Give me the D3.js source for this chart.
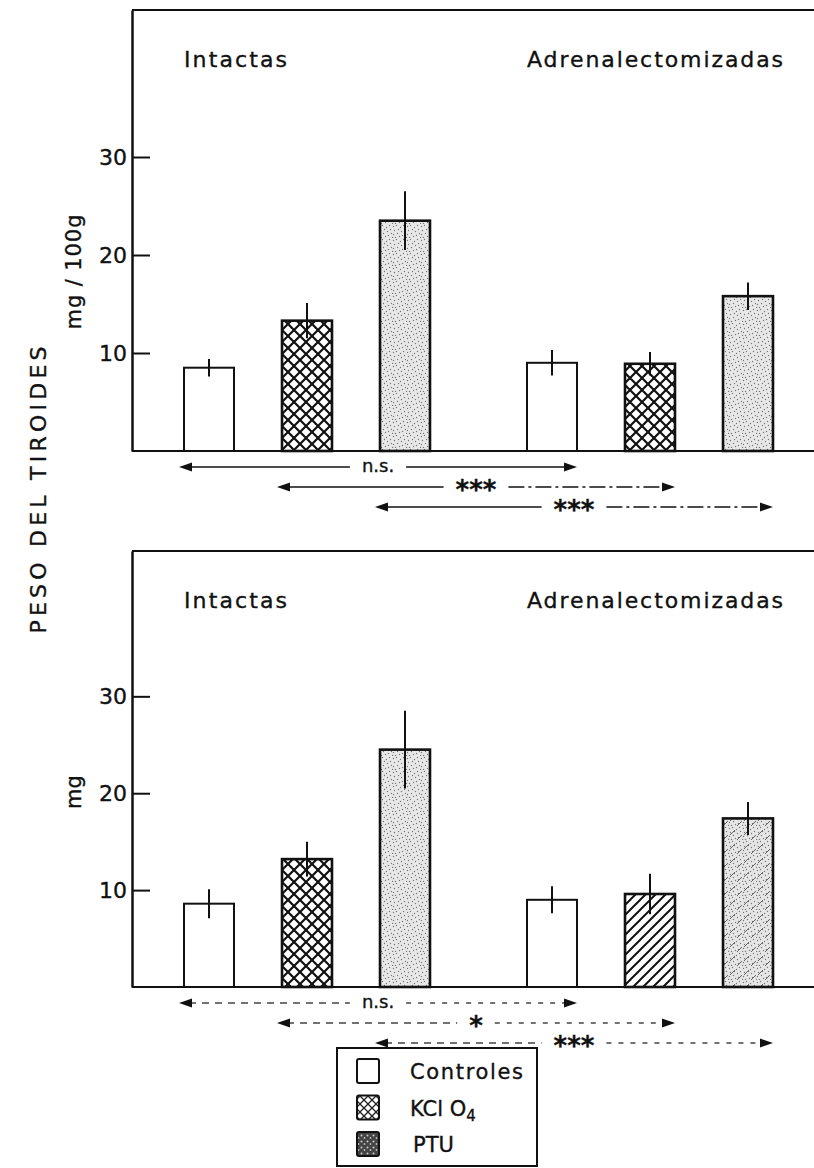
<!DOCTYPE html>
<html>
<head>
<meta charset="utf-8">
<script src="https://cdn.jsdelivr.net/npm/d3@7"></script>
<style>
  body { margin: 0; background: #fff; }
  svg { display: block; }
  text { font-family: "DejaVu Sans", sans-serif; fill: #111; stroke: #111; stroke-width: 0.35px; }
</style>
</head>
<body>
<svg id="chart" width="814" height="1168"></svg>
<script>
// Thyroid weight by treatment, intact vs adrenalectomized rats
const groups = ["Intactas", "Adrenalectomizadas"];
const treatments = ["Controles", "KClO4", "PTU"];

// Relative weight (mg / 100 g body weight): mean and error
const relIntactas = [8.5, 13.3, 23.5];
const relIntactasErr = [0.9, 1.8, 3.0];
const relAdrenal = [9.0, 8.9, 15.8];
const relAdrenalErr = [1.3, 1.2, 1.4];

// Absolute weight (mg): mean and error
const absIntactas = [8.6, 13.2, 24.5];
const absIntactasErr = [1.5, 1.8, 4.0];
const absAdrenal = [9.0, 9.6, 17.4];
const absAdrenalErr = [1.4, 2.1, 1.7];

// Significance of Intactas vs Adrenalectomizadas, per treatment
const relSignif = ["n.s.", "***", "***"];
const absSignif = ["n.s.", "*", "***"];

const yTicks = [10, 20, 30];
const yMax = 45;

const svg = d3.select("#chart");
const W = 814;

// ---------- fill patterns ----------
const defs = svg.append("defs");

function patternTile(id, size) {
  return defs.append("pattern").attr("id", id)
    .attr("patternUnits", "userSpaceOnUse")
    .attr("width", size).attr("height", size);
}

// cross-hatch (diamond lattice)
{
  const p = patternTile("cross", 12);
  p.append("rect").attr("width", 12).attr("height", 12).attr("fill", "#fff");
  p.append("path").attr("d", "M-3,-3L15,15M15,-3L-3,15")
    .attr("stroke", "#111").attr("stroke-width", 2.2).attr("fill", "none");
}
// fine light stipple
const dots = [[1,2],[4,1],[8,3],[11,1],[2,6],[6,5],[9,7],[1,10],[5,9],[10,11],[7,12],[3,13],[12,5],[13,9],[0,13]];
{
  const p = patternTile("stipple", 14);
  p.append("rect").attr("width", 14).attr("height", 14).attr("fill", "#e8e8e8");
  p.selectAll("circle").data(dots).join("circle")
    .attr("cx", d => d[0] + 0.5).attr("cy", d => d[1] + 0.5).attr("r", 0.7)
    .attr("fill", "#777");
}
// diagonal hatch
{
  const p = patternTile("diag", 10);
  p.append("rect").attr("width", 10).attr("height", 10).attr("fill", "#fff");
  p.append("path").attr("d", "M-2,12L12,-2M-2,2L2,-2M8,12L12,8")
    .attr("stroke", "#111").attr("stroke-width", 2).attr("fill", "none");
}
// stipple with faint diagonal strokes
{
  const p = patternTile("stippleDiag", 14);
  p.append("rect").attr("width", 14).attr("height", 14).attr("fill", "#e6e6e6");
  p.selectAll("circle").data(dots).join("circle")
    .attr("cx", d => d[0] + 0.5).attr("cy", d => d[1] + 0.5).attr("r", 0.7)
    .attr("fill", "#777");
  p.append("path").attr("d", "M2,9L7,4M9,14L13,10")
    .attr("stroke", "#666").attr("stroke-width", 1).attr("fill", "none");
}
// dark stipple for the legend swatch
{
  const p = patternTile("stippleDark", 6);
  p.append("rect").attr("width", 6).attr("height", 6).attr("fill", "#444");
  p.append("circle").attr("cx", 1.5).attr("cy", 1.5).attr("r", 1).attr("fill", "#ccc");
  p.append("circle").attr("cx", 4.5).attr("cy", 4).attr("r", 0.9).attr("fill", "#bbb");
}
// light cross for the legend swatch
{
  const p = patternTile("crossLight", 8);
  p.append("rect").attr("width", 8).attr("height", 8).attr("fill", "#fff");
  p.append("path").attr("d", "M-2,-2L10,10M10,-2L-2,10")
    .attr("stroke", "#222").attr("stroke-width", 1.3).attr("fill", "none");
}

// ---------- shared x layout ----------
const x0 = d3.scaleBand().domain(groups).range([160, 797]).paddingInner(49 / 343);
const x1 = d3.scaleBand().domain(treatments).range([0, x0.bandwidth()])
  .paddingInner(0.49).paddingOuter(0.245);
const bw = x1.bandwidth();
const xBar = (g, t) => x0(g) + x1(t);
const axisX = 132;

// ---------- panels ----------
const panels = [
  {
    top: 10, base: 451, unit: "mg / 100g", unitLen: 115, unitY: 272,
    means: [relIntactas, relAdrenal], errs: [relIntactasErr, relAdrenalErr],
    fills: [["none", "cross", "stipple"], ["none", "cross", "stipple"]],
    signif: relSignif, dashed: false
  },
  {
    top: 551, base: 987, unit: "mg", unitLen: null, unitY: 792,
    means: [absIntactas, absAdrenal], errs: [absIntactasErr, absAdrenalErr],
    fills: [["none", "cross", "stipple"], ["none", "diag", "stippleDiag"]],
    signif: absSignif, dashed: true
  }
];

panels.forEach(P => {
  const y = d3.scaleLinear().domain([0, yMax]).range([P.base, P.top]);
  const g = svg.append("g");

  // frame: top rule and baseline running off to the right
  g.append("line").attr("x1", axisX).attr("x2", W).attr("y1", P.top).attr("y2", P.top)
    .attr("stroke", "#111").attr("stroke-width", 2.2);
  g.append("line").attr("x1", axisX).attr("x2", W).attr("y1", P.base).attr("y2", P.base)
    .attr("stroke", "#111").attr("stroke-width", 2.2);

  // y axis with inward ticks
  const ax = g.append("g").attr("transform", `translate(${axisX},0)`)
    .call(d3.axisLeft(y).tickValues(yTicks).tickSizeInner(-18).tickSizeOuter(0).tickPadding(5));
  ax.select(".domain").attr("stroke", "#111").attr("stroke-width", 2.5);
  ax.selectAll(".tick line").attr("stroke", "#111").attr("stroke-width", 2);
  ax.selectAll(".tick text").attr("font-size", 22).attr("font-family", "DejaVu Sans, sans-serif")
    .attr("fill", "#111");

  // unit label
  const ut = g.append("text")
    .attr("transform", `translate(81,${P.unitY}) rotate(-90)`)
    .attr("text-anchor", "middle").attr("font-size", 21)
    .text(P.unit);
  if (P.unitLen) ut.attr("textLength", P.unitLen).attr("lengthAdjust", "spacing");

  // group labels
  groups.forEach((grp, gi) => {
    g.append("text")
      .attr("x", xBar(grp, treatments[0])).attr("y", P.top + 57)
      .attr("font-size", 22)
      .attr("textLength", gi === 0 ? 103 : 256).attr("lengthAdjust", "spacing")
      .text(grp);
  });

  // bars and error bars
  groups.forEach((grp, gi) => {
    treatments.forEach((t, ti) => {
      const v = P.means[gi][ti], e = P.errs[gi][ti];
      const f = P.fills[gi][ti];
      g.append("rect")
        .attr("x", xBar(grp, t)).attr("width", bw)
        .attr("y", y(v)).attr("height", y(0) - y(v))
        .attr("fill", f === "none" ? "#fff" : `url(#${f})`)
        .attr("stroke", "#111").attr("stroke-width", f === "none" ? 2 : 2.6);
      g.append("line")
        .attr("x1", xBar(grp, t) + bw / 2).attr("x2", xBar(grp, t) + bw / 2)
        .attr("y1", y(v + e)).attr("y2", y(v - e))
        .attr("stroke", "#111").attr("stroke-width", 2);
    });
  });

  // significance arrows: same treatment, Intactas vs Adrenalectomizadas
  treatments.forEach((t, ti) => {
    const ly = P.base + 16 + ti * 20;
    const xl = xBar(groups[0], t) - 5;
    const xr = xBar(groups[1], t) + bw;
    const mid = (xl + xr) / 2;
    const label = P.signif[ti];
    const isStar = label.includes("*");
    const txt = g.append("text")
      .attr("x", mid).attr("text-anchor", "middle")
      .attr("font-size", isStar ? 26 : 18)
      .attr("font-weight", isStar ? "bold" : "normal")
      .attr("y", isStar ? ly + 12 : ly + 5)
      .text(label);
    const half = txt.node().getComputedTextLength() / 2 + 12;

    const lineStyle = sel => sel.attr("stroke", P.dashed ? "#444" : "#111")
      .attr("stroke-width", P.dashed ? 1.4 : 1.6);
    const leftSeg = g.append("line").attr("x1", xl + 10).attr("x2", mid - half)
      .attr("y1", ly).attr("y2", ly).call(lineStyle);
    const rightSeg = g.append("line").attr("x1", mid + half).attr("x2", xr - 10)
      .attr("y1", ly).attr("y2", ly).call(lineStyle);
    if (P.dashed) {
      leftSeg.attr("stroke-dasharray", "7,6");
      rightSeg.attr("stroke-dasharray", "5,7");
    } else if (ti > 0) {
      rightSeg.attr("stroke-dasharray", "16,4,3,4");
    }
    g.append("path").attr("d", `M${xl},${ly}L${xl + 13},${ly - 4.5}L${xl + 13},${ly + 4.5}Z`).attr("fill", "#111");
    g.append("path").attr("d", `M${xr},${ly}L${xr - 13},${ly - 4.5}L${xr - 13},${ly + 4.5}Z`).attr("fill", "#111");
  });
});

// shared axis title
svg.append("text")
  .attr("transform", "translate(46,490) rotate(-90)")
  .attr("text-anchor", "middle").attr("font-size", 22)
  .attr("textLength", 287).attr("lengthAdjust", "spacing")
  .text("PESO DEL TIROIDES");

// ---------- legend ----------
const legend = svg.append("g");
legend.append("rect").attr("x", 337).attr("y", 1048).attr("width", 200).attr("height", 118)
  .attr("fill", "#fff").attr("stroke", "#111").attr("stroke-width", 2);
const legendFills = ["#fff", "url(#crossLight)", "url(#stippleDark)"];
const rowY = d3.scalePoint().domain(treatments).range([1059, 1132]);
treatments.forEach((t, i) => {
  legend.append("rect").attr("x", 357).attr("y", rowY(t)).attr("width", 22).attr("height", 24)
    .attr("rx", 2).attr("fill", legendFills[i]).attr("stroke", "#111").attr("stroke-width", 2);
  const tx = legend.append("text").attr("x", i === 2 ? 413 : 410).attr("y", rowY(t) + 20)
    .attr("font-size", 21);
  if (t === "KClO4") {
    tx.append("tspan").text("KCl O");
    tx.append("tspan").attr("dy", 5).attr("font-size", 15).text("4");
  } else if (t === "Controles") {
    tx.attr("textLength", 113).attr("lengthAdjust", "spacing").text(t);
  } else {
    tx.text(t);
  }
});
</script>
</body>
</html>
